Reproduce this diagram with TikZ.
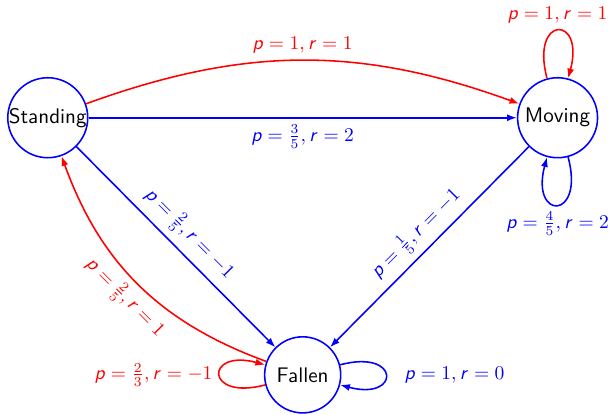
\documentclass[tikz,border=0pt]{standalone}
\usetikzlibrary{arrows.meta}
% slanted sans letters in the labels
\DeclareSymbolFont{sfslanted}{OT1}{cmss}{m}{sl}
\DeclareMathSymbol{p}{\mathalpha}{sfslanted}{`p}
\DeclareMathSymbol{r}{\mathalpha}{sfslanted}{`r}
\begin{document}
\begin{tikzpicture}[x=1cm,y=1cm,font=\sffamily,
    >={Latex[length=5pt,width=3.6pt]},
    state/.style={circle,draw=blue,thick,inner sep=0pt,minimum size=1.44cm,
      font=\sffamily\fontsize{10.8pt}{13pt}\selectfont},
    bluearc/.style={->,thick,blue},
    redarc/.style={->,thick,red}]
  \useasboundingbox (0,0) rectangle (11.02,7.47);
  \node[state] (standing) at (0.86,5.35) {Standing};
  \node[state] (moving) at (10.04,5.35) {Moving};
  \node[state,minimum size=1.37cm] (fallen) at (5.45,0.72) {Fallen};

  \draw[redarc] (standing) to[bend left=20] node[above] {$p=1,r=1$} (moving);
  \draw[bluearc] (standing) -- node[below] {$p=\frac{3}{5},r=2$} (moving);
  \draw[bluearc] (standing) -- node[above,sloped] {$p=\frac{2}{5},r=-1$} (fallen);
  \draw[redarc] (fallen) to[bend left=25] node[below,sloped] {$p=\frac{2}{5},r=1$} (standing);
  \draw[bluearc] (moving) -- node[above,sloped] {$p=\frac{1}{5},r=-1$} (fallen);
  \draw[redarc] (moving) to[loop above] node[above] {$p=1,r=1$} (moving);
  \draw[bluearc] (moving) to[loop below] node[below] {$p=\frac{4}{5},r=2$} (moving);
  \draw[redarc] (fallen) to[loop left] node[left] {$p=\frac{2}{3},r=-1$} (fallen);
  \draw[bluearc] (fallen) to[loop right] node[right=6pt] {$p=1,r=0$} (fallen);
\end{tikzpicture}
\end{document}
